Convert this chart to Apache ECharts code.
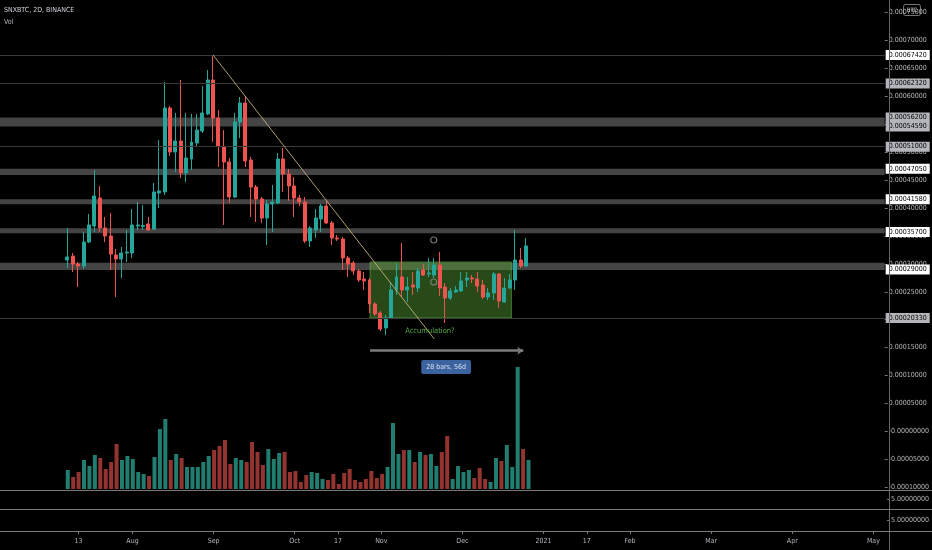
<!DOCTYPE html>
<html lang="en">
<head>
    <meta charset="UTF-8">
    <script src="https://cdn.jsdelivr.net/npm/echarts@6.0.0/dist/echarts.min.js"></script>
    <title>SNXBTC, 2D, BINANCE</title>
    <style>
        html, body { margin: 0; padding: 0; background: #000; }
        #chart { width: 932px; height: 550px; }
    </style>
</head>
<body>
    <div id="chart"></div>
</body>
<script type="text/javascript">
    // ---- data (prices in satoshi, 1e-8 BTC) ----
    // 2-day bars, first candle on 2020-07-09
    var candleOpen = [30700,31410,29980,29620,33920,36790,41800,36430,35000,31590,
        30880,31950,31950,36790,36700,37150,36250,42700,42880,57920,
        50040,52010,46280,48790,51650,53800,56850,62940,56130,50940,
        48250,41980,55410,58820,48610,43770,41620,38220,40730,40910,
        48790,46100,43950,41800,41090,34100,36070,38040,40370,37330,
        34640,34460,31060,30160,28730,27300,27120,22820,21210,18520,
        20310,25330,27650,25330,26220,25680,28910,28190,28010,29800,
        25860,23890,24970,25150,27120,27470,27300,26220,24070,24790,
        28190,23180,25680,27120,30700,29620];
    var candleClose = [31240,29980,29620,33920,36970,42160,36430,35000,31770,30880,
        31950,32130,36970,36970,36880,36070,42880,43060,57920,50040,
        52010,46280,48970,51830,53980,57030,62940,56130,51120,48250,
        41980,55410,58820,48430,43770,41620,38220,40730,41090,48790,
        46100,43950,41800,41090,34100,36430,38220,40370,37330,34640,
        34460,31060,29980,28730,27120,26940,22820,21030,18340,20310,
        25330,27650,25330,25860,25860,28730,28010,28370,29800,25680,
        23890,25150,25330,26940,27470,27300,26040,24070,24790,28190,
        23360,25680,27120,30700,29620,33210];
    var candleLow = [29270,28550,25860,29090,33740,35710,35710,33920,28910,24070,
        27470,30340,31060,36070,36070,35890,36070,40010,42340,49320,
        46460,45380,44670,46820,50940,53440,56670,51830,47350,36970,
        40910,41800,52550,47350,38400,37500,37330,33380,35710,40730,
        42880,41270,38400,40370,33740,33030,34640,35710,37150,33380,
        34100,28910,27650,28010,26760,25330,21210,20670,17980,17270,
        20130,24430,24070,23180,24430,24970,27830,27650,27470,24250,
        19420,23530,24790,24970,25860,26580,24970,23710,23530,23530,
        22100,23000,25500,25330,29270,29440];
    var candleHigh = [36430,31950,30340,35710,38940,46820,43950,38400,39120,32670,
        33030,36070,39830,41090,40550,38400,44490,52190,62580,58280,
        57030,62940,57030,56850,56850,61860,64730,67420,57560,53980,
        48970,57030,59890,60070,49150,44130,41980,41440,44130,49860,
        50760,47000,45560,42340,41980,36790,39830,40730,41270,37680,
        35180,34820,31410,30520,29090,28550,27470,23180,21560,20850,
        26760,30160,33740,27650,28550,29270,29980,31060,31060,32130,
        26580,25680,26040,28550,28550,28010,28550,27120,25680,28550,
        28370,27470,28190,36070,32850,34640];
    // volume, relative bar heights
    var volume = [19,12,17,29,23,34,31,20,27,45,29,33,30,17,15,13,32,60,70,29,
        35,31,22,22,22,27,33,39,43,49,25,31,29,27,47,37,24,40,30,36,
        37,17,18,7,14,17,16,10,9,15,5,16,20,9,7,10,18,11,15,22,
        66,35,39,39,27,37,34,35,23,37,53,10,23,17,19,11,21,10,7,31,
        28,44,22,122,40,29];

    // price scale ticks (BTC)
    var priceTicks = [0.00075,0.0007,0.00065,0.0006,0.00055,0.0005,0.00045,0.0004,0.00035,
        0.0003,0.00025,0.0002,0.00015,0.0001,0.00005,0,-0.00005,-0.0001];
    // time axis ticks
    var timeTicks = [['2020-07-13','13'],['2020-08-02','Aug'],['2020-09-01','Sep'],['2020-10-01','Oct'],
        ['2020-10-17','17'],['2020-11-02','Nov'],['2020-12-02','Dec'],['2021-01-01','2021'],
        ['2021-01-17','17'],['2021-02-02','Feb'],['2021-03-04','Mar'],['2021-04-03','Apr'],['2021-05-03','May']];

    // drawn levels (BTC)
    var whiteLevels = [0.0006742, 0.0004705, 0.0004158, 0.000357, 0.00029];
    var grayLevels = [0.0006232, 0.000562, 0.0005459, 0.00051, 0.0002033];
    var thinLevels = [0.0006742, 0.0006232, 0.00051, 0.0002033];
    var bandLevels = [[0.0005459, 0.000562], [0.000459, 0.0004705], [0.000407, 0.0004158],
        [0.000355, 0.000364], [0.000289, 0.000302]];
    // drawings, x in bar index units
    var trendLine = [[39, 0.0006742], [80, 0.0001655]];
    var accumBox = [[68.1, 0.0003034], [94.3, 0.0002031]];
    var rangeArrow = [[68.1, 0.0001445], [96.5, 0.0001445]];
    var accumText = [79.2, 0.0001798];
    var rangeLabel = [82.2, 0.0001153];
    var alerts = [[79.9, 0.0003428], [79.9, 0.0002676]];

    // ---- layout ----
    var W = 932, H = 550;
    var GRID_RIGHT = 43;
    var AXIS_X = W - GRID_RIGHT;
    var MAIN_BOTTOM = 490, PANE1_BOTTOM = 509, PANE2_BOTTOM = 531;
    var BAR_COUNT = 164, FIRST_CANDLE = 12;
    var FONT = "'Liberation Sans Narrow', 'DejaVu Sans Condensed', 'Liberation Sans', sans-serif";
    var UP = '#26a69a', DOWN = '#ef5350';

    var dates = [];
    var t0 = Date.UTC(2020, 5, 15);
    for (var i = 0; i < BAR_COUNT; i++) {
        dates.push(new Date(t0 + i * 2 * 86400000).toISOString().slice(0, 10));
    }
    var tickMap = {};
    timeTicks.forEach(function (t) { tickMap[t[0]] = t[1]; });

    var candleData = [], volData = [];
    for (var k = 0; k < candleOpen.length; k++) {
        var idx = FIRST_CANDLE + k;
        var up = candleClose[k] >= candleOpen[k];
        candleData.push([idx, candleOpen[k] * 1e-8, candleClose[k] * 1e-8, candleLow[k] * 1e-8, candleHigh[k] * 1e-8]);
        volData.push({value: [idx, volume[k]], itemStyle: {color: up ? '#207d6f' : '#933430'}});
    }

    function fmtPrice(v) {
        return v <= 0 ? '-' + Math.abs(v).toFixed(8) : v.toFixed(8);
    }

    var levelLines = [];
    whiteLevels.concat(grayLevels).forEach(function (v) {
        var white = whiteLevels.indexOf(v) >= 0;
        levelLines.push({
            yAxis: v,
            lineStyle: thinLevels.indexOf(v) >= 0
                ? {color: '#3a3a3a', width: 1, type: 'solid'}
                : {color: 'rgba(0,0,0,0)', width: 1, type: 'solid'},
            label: {
                show: true, position: 'end', distance: 1,
                formatter: v.toFixed(8),
                color: '#000', backgroundColor: white ? '#ffffff' : '#b4b5ba',
                padding: [2, 3, 1, 3], fontSize: 7, fontFamily: FONT
            }
        });
    });

    var bandAreas = bandLevels.map(function (b) {
        return [{yAxis: b[0], itemStyle: {color: 'rgba(150,150,150,0.45)'}}, {yAxis: b[1]}];
    });

    function paneAxis(gridIndex) {
        return {
            type: 'value', gridIndex: gridIndex, position: 'right', min: 0, max: 10,
            splitLine: {show: false}, axisLine: {show: false, onZero: false},
            axisTick: {show: true, length: 3, lineStyle: {color: '#777'}, customValues: [5]},
            axisLabel: {customValues: [5], formatter: function () { return '5.00000000'; },
                color: '#b8b8b8', fontSize: 7, margin: 4, fontFamily: FONT}
        };
    }

    var chart = echarts.init(document.getElementById('chart'));
    chart.setOption({
        backgroundColor: '#000',
        animation: false,
        textStyle: {fontFamily: FONT},
        title: [
            {text: 'SNXBTC, 2D, BINANCE', left: 4, top: 7, padding: 0, textStyle: {color: '#d1d4dc', fontSize: 7, fontWeight: 'normal', fontFamily: FONT}},
            {text: 'Vol', left: 4, top: 19, padding: 0, textStyle: {color: '#b2b5be', fontSize: 7, fontWeight: 'normal', fontFamily: FONT}}
        ],
        grid: [
            {left: 0, right: GRID_RIGHT, top: 0, height: MAIN_BOTTOM},
            {left: 0, right: GRID_RIGHT, top: 367, height: MAIN_BOTTOM - 1 - 367},
            {left: 0, right: GRID_RIGHT, top: MAIN_BOTTOM, height: PANE1_BOTTOM - MAIN_BOTTOM},
            {left: 0, right: GRID_RIGHT, top: PANE1_BOTTOM, height: PANE2_BOTTOM - PANE1_BOTTOM}
        ],
        xAxis: [
            {type: 'category', gridIndex: 0, data: dates, show: false},
            {type: 'category', gridIndex: 1, data: dates, show: false},
            {type: 'category', gridIndex: 2, data: dates, show: false},
            {
                type: 'category', gridIndex: 3, data: dates,
                axisLine: {show: false},
                axisTick: {show: true, length: 3, lineStyle: {color: '#777'}, alignWithLabel: true,
                    interval: function (i, v) { return tickMap[v] !== undefined; }},
                axisLabel: {
                    interval: function (i, v) { return tickMap[v] !== undefined; },
                    formatter: function (v) { return tickMap[v] || ''; },
                    color: '#b2b5be', fontSize: 7, margin: 7, fontFamily: FONT
                },
                splitLine: {show: false}
            },
            {type: 'value', gridIndex: 0, min: -0.5, max: BAR_COUNT - 0.5, show: false}
        ],
        yAxis: [
            {
                type: 'value', gridIndex: 0, position: 'right',
                min: -0.00010495, max: 0.00077264,
                splitLine: {show: false},
                axisLine: {show: false, onZero: false},
                axisTick: {show: true, length: 3, lineStyle: {color: '#777'}, customValues: priceTicks},
                axisLabel: {
                    customValues: priceTicks, formatter: fmtPrice,
                    color: '#b8b8b8', fontSize: 7, margin: 4, fontFamily: FONT
                }
            },
            {type: 'value', gridIndex: 1, min: 0, max: 122, show: false},
            paneAxis(2),
            paneAxis(3)
        ],
        series: [
            {
                name: 'Vol', type: 'bar', xAxisIndex: 1, yAxisIndex: 1,
                barWidth: '74%', data: volData, encode: {x: 0, y: 1}, z: 1
            },
            {
                name: 'SNXBTC', type: 'candlestick', xAxisIndex: 0, yAxisIndex: 0,
                data: candleData, encode: {x: 0, y: [1, 2, 3, 4]},
                barWidth: '64%',
                itemStyle: {color: UP, color0: DOWN, borderColor: UP, borderColor0: DOWN, borderWidth: 1},
                z: 2
            },
            {
                // levels, bands and drawings over the candles
                name: 'drawings', type: 'line', xAxisIndex: 4, yAxisIndex: 0,
                data: [], z: 5, silent: true,
                markArea: {
                    silent: true,
                    data: bandAreas.concat([[
                        {coord: accumBox[0], itemStyle: {color: 'rgba(88,165,55,0.45)', borderColor: 'rgba(110,190,80,0.55)', borderWidth: 1}},
                        {coord: accumBox[1]}
                    ]])
                },
                markLine: {
                    silent: true, symbol: ['none', 'none'], animation: false, precision: 10,
                    data: levelLines.concat([
                        [{coord: trendLine[0], lineStyle: {color: 'rgba(205,185,125,0.85)', width: 1, type: 'solid'}, label: {show: false}},
                         {coord: trendLine[1]}],
                        [{coord: rangeArrow[0], symbol: 'none', lineStyle: {color: '#7b7b7b', width: 2.5, type: 'solid'}, label: {show: false}},
                         {coord: rangeArrow[1], symbol: 'arrow', symbolSize: 6}]
                    ])
                }
            },
            {
                name: 'notes', type: 'scatter', xAxisIndex: 4, yAxisIndex: 0, z: 7, silent: true,
                symbolSize: 1, itemStyle: {color: 'rgba(0,0,0,0)'},
                data: [
                    {value: accumText, label: {show: true, position: 'inside', formatter: 'Accumulation?', color: '#6ad452', fontSize: 7.5, fontFamily: FONT}},
                    {value: rangeLabel, label: {show: true, position: 'inside', formatter: '28 bars, 56d', color: '#fff', fontSize: 7,
                        backgroundColor: '#4a7cc7', padding: [4, 5, 3, 5], borderRadius: 2, fontFamily: FONT}}
                ]
            },
            {
                name: 'alerts', type: 'scatter', xAxisIndex: 4, yAxisIndex: 0, z: 6, silent: true,
                symbol: 'circle', symbolSize: 6,
                itemStyle: {color: 'rgba(0,0,0,0)', borderColor: '#8a8a8a', borderWidth: 1.2},
                data: alerts
            }
        ],
        graphic: [
            {type: 'line', shape: {x1: AXIS_X + 0.5, y1: 0, x2: AXIS_X + 0.5, y2: H}, style: {stroke: '#666', lineWidth: 1}, z: 10},
            {type: 'line', shape: {x1: 0, y1: MAIN_BOTTOM + 0.5, x2: W, y2: MAIN_BOTTOM + 0.5}, style: {stroke: '#7a7a7a', lineWidth: 1}, z: 10},
            {type: 'line', shape: {x1: 0, y1: PANE1_BOTTOM + 0.5, x2: W, y2: PANE1_BOTTOM + 0.5}, style: {stroke: '#7a7a7a', lineWidth: 1}, z: 10},
            {type: 'line', shape: {x1: 0, y1: PANE2_BOTTOM + 0.5, x2: W, y2: PANE2_BOTTOM + 0.5}, style: {stroke: '#7a7a7a', lineWidth: 1}, z: 10},
            {
                type: 'group', left: 903, top: 4, z: 20,
                children: [
                    {type: 'rect', shape: {x: 0, y: 0, width: 17, height: 11, r: 2}, style: {fill: '#000', stroke: '#777', lineWidth: 1}},
                    {type: 'text', x: 8.5, y: 5.5, style: {text: 'BTC', fill: '#d1d4dc', font: '6px ' + FONT, align: 'center', verticalAlign: 'middle'}}
                ]
            }
        ]
    });
</script>
</html>
